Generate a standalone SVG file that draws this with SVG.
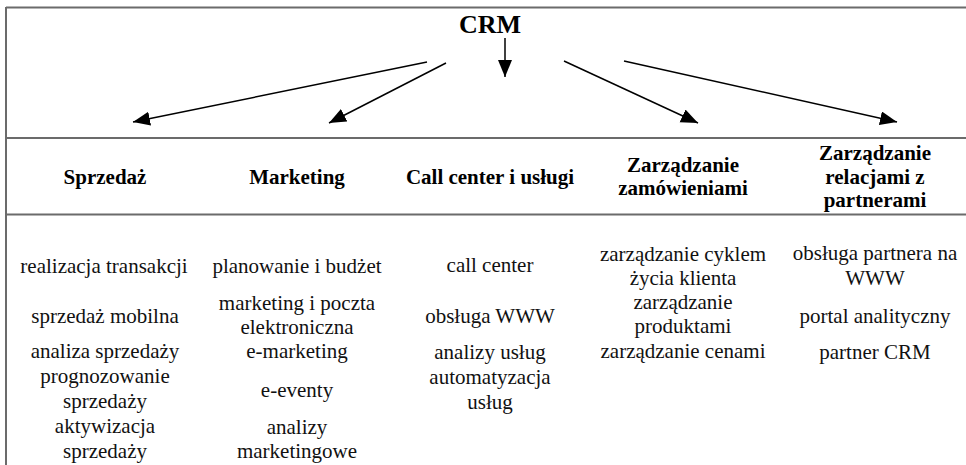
<svg xmlns="http://www.w3.org/2000/svg" width="966" height="465" viewBox="0 0 966 465">
  <style>
    .rule { stroke: #6b6b6b; stroke-width: 2; fill: none; }
    .edge { stroke: #000; stroke-width: 1.5; fill: none; marker-end: url(#head); }
    text { font-family: 'Liberation Serif', 'Times New Roman', serif; text-anchor: middle; }
    .title { font-weight: bold; font-size: 26px; fill: #000; }
    .hdr { font-weight: bold; font-size: 21px; fill: #000; }
    .item { font-size: 21px; fill: #111; }
  </style>
  <defs>
    <marker id="head" markerUnits="userSpaceOnUse" markerWidth="18" markerHeight="16" refX="17" refY="7" orient="auto">
      <path d="M0,0 L17,7 L0,14 Z" fill="#000"/>
    </marker>
  </defs>

  <rect width="966" height="465" fill="#fff"/>

  <!-- table rules -->
  <g id="table">
    <line class="rule" x1="6" y1="7.5" x2="966" y2="7.5"/>
    <line class="rule" x1="6" y1="7" x2="6" y2="465"/>
    <line class="rule" x1="6" y1="138" x2="966" y2="138"/>
    <line class="rule" x1="6" y1="214.5" x2="966" y2="214.5"/>
  </g>

  <!-- root -->
  <g id="crm">
    <text class="title" x="490" y="33">CRM</text>
  </g>

  <!-- connectors -->
  <g id="connectors">
    <line class="edge" x1="505" y1="38" x2="505" y2="77"/>
    <line class="edge" x1="427" y1="62" x2="133" y2="122"/>
    <line class="edge" x1="446" y1="63" x2="329" y2="123"/>
    <line class="edge" x1="564" y1="61" x2="698" y2="123"/>
    <line class="edge" x1="624" y1="61" x2="897" y2="122"/>
  </g>

  <!-- categories with their items -->
  <g id="sprzedaz">
    <text class="hdr" x="105" y="184">Sprzedaż</text>
    <text class="item" x="104" y="273">realizacja transakcji</text>
    <text class="item" x="105" y="323">sprzedaż mobilna</text>
    <text class="item" x="105" y="358">analiza sprzedaży</text>
    <text class="item" x="105" y="383">prognozowanie</text>
    <text class="item" x="105" y="408">sprzedaży</text>
    <text class="item" x="105" y="433">aktywizacja</text>
    <text class="item" x="105" y="458">sprzedaży</text>
  </g>

  <g id="marketing">
    <text class="hdr" x="297" y="184">Marketing</text>
    <text class="item" x="297" y="273">planowanie i budżet</text>
    <text class="item" x="297" y="310">marketing i poczta</text>
    <text class="item" x="297" y="334">elektroniczna</text>
    <text class="item" x="297" y="358">e-marketing</text>
    <text class="item" x="297" y="397">e-eventy</text>
    <text class="item" x="297" y="434">analizy</text>
    <text class="item" x="297" y="458">marketingowe</text>
  </g>

  <g id="callcenter">
    <text class="hdr" x="490" y="184">Call center i usługi</text>
    <text class="item" x="490" y="272">call center</text>
    <text class="item" x="490" y="323">obsługa WWW</text>
    <text class="item" x="490" y="359">analizy usług</text>
    <text class="item" x="490" y="384">automatyzacja</text>
    <text class="item" x="490" y="409">usług</text>
  </g>

  <g id="zamowienia">
    <text class="hdr" x="683" y="172">Zarządzanie</text>
    <text class="hdr" x="683" y="195">zamówieniami</text>
    <text class="item" x="683" y="261">zarządzanie cyklem</text>
    <text class="item" x="683" y="285">życia klienta</text>
    <text class="item" x="683" y="309">zarządzanie</text>
    <text class="item" x="683" y="333">produktami</text>
    <text class="item" x="683" y="358">zarządzanie cenami</text>
  </g>

  <g id="partnerzy">
    <text class="hdr" x="875" y="160">Zarządzanie</text>
    <text class="hdr" x="875" y="184">relacjami z</text>
    <text class="hdr" x="875" y="207">partnerami</text>
    <text class="item" x="875" y="260">obsługa partnera na</text>
    <text class="item" x="875" y="285">WWW</text>
    <text class="item" x="875" y="323">portal analityczny</text>
    <text class="item" x="875" y="359">partner CRM</text>
  </g>
</svg>
